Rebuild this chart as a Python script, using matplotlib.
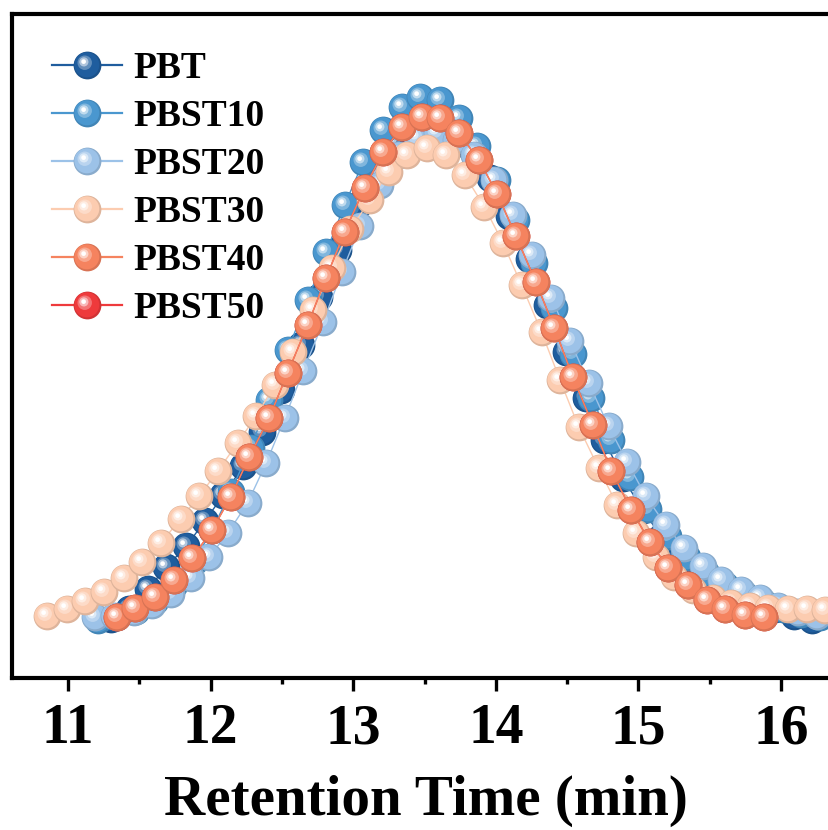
import matplotlib
matplotlib.use("Agg")
import matplotlib.pyplot as plt
import numpy as np
from matplotlib.colors import to_rgb
from matplotlib.lines import Line2D
from matplotlib.markers import MarkerStyle
from matplotlib.transforms import Affine2D
from matplotlib.legend_handler import HandlerTuple
from matplotlib.ticker import MultipleLocator

plt.rcParams["font.family"] = ["Liberation Serif", "DejaVu Serif"]
plt.rcParams["font.weight"] = "bold"

labels = ["PBT", "PBST10", "PBST20", "PBST30", "PBST40", "PBST50"]
colors = ["#1f5d9e", "#4a97cf", "#9cc2e8", "#fcccb0", "#f5835f", "#ee3a3c"]

# retention time (min) and normalised detector signal
pbt_t = [11.30, 11.43, 11.56, 11.69, 11.83, 11.96, 12.09, 12.23, 12.36, 12.49,
         12.63, 12.76, 12.89, 13.03, 13.16, 13.29, 13.43, 13.56, 13.69, 13.83,
         13.96, 14.09, 14.23, 14.36, 14.49, 14.63, 14.76, 14.89, 15.03, 15.16,
         15.29, 15.43, 15.56, 15.69, 15.82, 15.96, 16.09, 16.22]
pbt_y = [-0.004, 0.015, 0.054, 0.097, 0.137, 0.186, 0.236, 0.292, 0.358, 0.439,
         0.526, 0.619, 0.710, 0.797, 0.861, 0.917, 0.952, 0.961, 0.948, 0.903,
         0.849, 0.776, 0.692, 0.603, 0.513, 0.424, 0.342, 0.269, 0.207, 0.155,
         0.116, 0.087, 0.064, 0.046, 0.031, 0.015, 0.002, -0.006]

pbst10_t = [11.21, 11.34, 11.48, 11.61, 11.74, 11.88, 12.01, 12.14, 12.28, 12.41,
            12.54, 12.68, 12.81, 12.94, 13.07, 13.21, 13.34, 13.47, 13.61, 13.74,
            13.87, 14.01, 14.14, 14.27, 14.41, 14.54, 14.67, 14.81, 14.94, 15.07,
            15.21, 15.34, 15.47, 15.61, 15.74, 15.87, 16.01, 16.14, 16.27]
pbst10_y = [-0.005, 0.000, 0.012, 0.031, 0.062, 0.106, 0.168, 0.242, 0.327, 0.420,
            0.516, 0.613, 0.706, 0.797, 0.880, 0.942, 0.986, 1.006, 1.000, 0.965,
            0.911, 0.845, 0.768, 0.685, 0.598, 0.509, 0.424, 0.342, 0.271, 0.209,
            0.157, 0.116, 0.085, 0.062, 0.044, 0.029, 0.015, 0.006, 0.000]

pbst20_t = [11.19, 11.32, 11.46, 11.59, 11.72, 11.86, 11.99, 12.12, 12.26, 12.39,
            12.52, 12.65, 12.79, 12.92, 13.05, 13.19, 13.32, 13.45, 13.59, 13.72,
            13.85, 13.99, 14.12, 14.25, 14.39, 14.52, 14.65, 14.79, 14.92, 15.05,
            15.19, 15.32, 15.45, 15.58, 15.72, 15.85, 15.98, 16.12, 16.25]
pbst20_y = [0.000, 0.002, 0.010, 0.023, 0.044, 0.075, 0.116, 0.162, 0.221, 0.298,
            0.385, 0.476, 0.571, 0.667, 0.756, 0.836, 0.894, 0.927, 0.936, 0.923,
            0.894, 0.845, 0.778, 0.700, 0.617, 0.534, 0.453, 0.369, 0.300, 0.234,
            0.178, 0.133, 0.099, 0.072, 0.052, 0.037, 0.021, 0.010, 0.002]

pbst30_t = [10.85, 10.99, 11.12, 11.25, 11.39, 11.52, 11.65, 11.79, 11.92, 12.05,
            12.19, 12.32, 12.45, 12.58, 12.72, 12.85, 12.98, 13.12, 13.25, 13.38,
            13.52, 13.65, 13.78, 13.92, 14.05, 14.18, 14.32, 14.45, 14.58, 14.72,
            14.85, 14.98, 15.12, 15.25, 15.38, 15.52, 15.65, 15.78, 15.91, 16.05,
            16.18, 16.31]
pbst30_y = [0.002, 0.015, 0.031, 0.048, 0.075, 0.106, 0.143, 0.190, 0.234, 0.282,
            0.337, 0.389, 0.449, 0.513, 0.594, 0.675, 0.750, 0.807, 0.861, 0.894,
            0.907, 0.894, 0.855, 0.793, 0.723, 0.642, 0.551, 0.458, 0.368, 0.288,
            0.217, 0.162, 0.116, 0.077, 0.052, 0.037, 0.027, 0.021, 0.017, 0.015,
            0.015, 0.014]

pbst40_t = [11.34, 11.47, 11.61, 11.74, 11.87, 12.01, 12.14, 12.27, 12.41, 12.54,
            12.68, 12.81, 12.94, 13.08, 13.21, 13.34, 13.48, 13.61, 13.74, 13.88,
            14.01, 14.14, 14.28, 14.41, 14.54, 14.68, 14.81, 14.95, 15.08, 15.21,
            15.35, 15.48, 15.61, 15.75, 15.88]
pbst40_y = [0.000, 0.017, 0.039, 0.072, 0.114, 0.168, 0.232, 0.309, 0.385, 0.472,
            0.565, 0.656, 0.745, 0.830, 0.899, 0.948, 0.967, 0.965, 0.936, 0.884,
            0.818, 0.737, 0.648, 0.559, 0.464, 0.371, 0.282, 0.207, 0.145, 0.095,
            0.062, 0.033, 0.015, 0.004, 0.000]

# PBST50 lies right under PBST40 in the figure
pbst50_t = list(pbst40_t)
pbst50_y = list(pbst40_y)

series_t = [pbt_t, pbst10_t, pbst20_t, pbst30_t, pbst40_t, pbst50_t]
series_y = [pbt_y, pbst10_y, pbst20_y, pbst30_y, pbst40_y, pbst50_y]
draw_order = [0, 1, 2, 3, 5, 4]

MS = 20
# (scale, dx, dy, shade) of the stacked discs that fake a shaded ball;
# shade < 0 darkens, > 0 mixes towards white
layers = [(1.0, 0.0, 0.0, -0.12),
          (0.9, -0.025, 0.025, 0.0),
          (0.52, -0.10, 0.10, 0.3),
          (0.33, -0.13, 0.13, 0.65),
          (0.17, -0.14, 0.14, 1.0)]


def tint(c, f):
    r = np.array(to_rgb(c))
    if f < 0:
        return tuple(r * (1 + f))
    return tuple(r + (1 - r) * f)


def ball_styles(c):
    out = []
    for s, dx, dy, w in layers:
        m = MarkerStyle("o", transform=Affine2D().scale(s).translate(dx, dy))
        out.append((m, tint(c, w)))
    return out


fig = plt.figure(figsize=(8.29, 8.30), dpi=100)
ax = fig.add_axes([12 / 829, 1 - 678 / 830, 828 / 829, 664 / 830])

for z, k in enumerate(draw_order):
    c = colors[k]
    styles = ball_styles(c)
    zz = 2 + z
    ax.plot(series_t[k], series_y[k], color=c, lw=1.0, zorder=zz)
    for x, y in zip(series_t[k], series_y[k]):
        for m, fc in styles:
            ax.plot([x], [y], ls="none", marker=m, ms=MS, mfc=fc,
                    mec="none", zorder=zz)

handles = []
for k, c in enumerate(colors):
    parts = []
    for i, (m, fc) in enumerate(ball_styles(c)):
        parts.append(Line2D([], [], color=c, lw=1.6 if i == 0 else 0,
                            ls="-" if i == 0 else "none", marker=m, ms=MS,
                            mfc=fc, mec="none"))
    handles.append(tuple(parts))

ax.legend(handles, labels, handler_map={tuple: HandlerTuple(ndivide=1, pad=0)},
          loc="upper left", bbox_to_anchor=(52 / 829, 1 - 51 / 830),
          bbox_transform=fig.transFigure, frameon=False,
          handlelength=1.87, handletextpad=0.3, labelspacing=0.345,
          borderpad=0, borderaxespad=0, numpoints=1,
          prop={"family": "Liberation Serif", "weight": "bold", "size": 27})

ax.set_xlim(10.607, 16.413)
ax.set_ylim(-0.118, 1.166)
ax.xaxis.set_major_locator(MultipleLocator(1))
ax.xaxis.set_minor_locator(MultipleLocator(0.5))
ax.set_yticks([])
ax.tick_params(axis="x", which="major", direction="out", length=9, width=2.4,
               labelsize=40, pad=9)
ax.tick_params(axis="x", which="minor", direction="out", length=4.5, width=2.4)
for lab in ax.get_xticklabels():
    lab.set_fontweight("bold")
for side in ["left", "top", "bottom", "right"]:
    ax.spines[side].set_linewidth(3)
ax.set_xlabel("Retention Time (min)", fontsize=41, fontweight="bold", labelpad=14)

fig.savefig("out.png", dpi=100)
